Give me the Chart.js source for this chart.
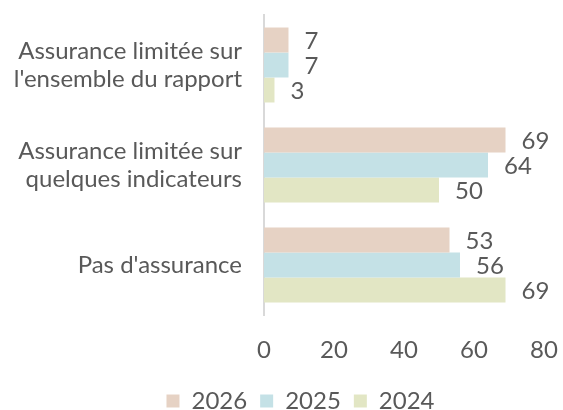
<!DOCTYPE html>
<html>
<head>
<meta charset="utf-8">
<script src="https://cdn.jsdelivr.net/npm/chart.js@4"></script>
<style>
  html, body { margin: 0; padding: 0; background: #fff; }
  #wrap { width: 563px; height: 410px; }
</style>
</head>
<body>
<div id="wrap"><canvas id="assuranceChart" width="563" height="410"></canvas></div>
<script>
// chart data
const categories = [
    ['Assurance limitée sur', "l'ensemble du rapport"],
    ['Assurance limitée sur', 'quelques indicateurs'],
    "Pas d'assurance"
];
const years = ['2026', '2025', '2024'];
const values2026 = [7, 69, 53];
const values2025 = [7, 64, 56];
const values2024 = [3, 50, 69];
const xTicks = [0, 20, 40, 60, 80];

const colors = ['#e6d2c4', '#c4e1e6', '#e2e6c4'];
const textColor = '#595959';

// draws the value just right of each bar end
const barValues = {
    id: 'barValues',
    afterDatasetsDraw(chart) {
        const ctx = chart.ctx;
        ctx.save();
        ctx.font = '24px Lato';
        ctx.fillStyle = textColor;
        ctx.textAlign = 'left';
        ctx.textBaseline = 'middle';
        chart.data.datasets.forEach((ds, i) => {
            chart.getDatasetMeta(i).data.forEach((bar, j) => {
                ctx.fillText(ds.data[j], bar.x + 16, bar.y + 1);
            });
        });
        ctx.restore();
    }
};

// legend is centred on the page; the reference has it a bit to the right
const legendNudge = {
    id: 'legendNudge',
    afterLayout(chart) {
        if (chart.legend) chart.legend.left += 38;
    }
};

const seriesValues = [values2026, values2025, values2024];

new Chart(document.getElementById('assuranceChart'), {
    type: 'bar',
    data: {
        labels: categories,
        datasets: years.map((y, i) => ({
            label: y,
            data: seriesValues[i],
            backgroundColor: colors[i],
            categoryPercentage: 0.75,
            barPercentage: 1
        }))
    },
    options: {
        indexAxis: 'y',
        responsive: false,
        animation: false,
        // negative bottom pushes the legend down to the canvas edge
        layout: { padding: { top: 15, right: 0, left: 0, bottom: -13 } },
        scales: {
            x: {
                min: 0,
                max: 80,
                afterBuildTicks: axis => { axis.ticks = xTicks.map(v => ({ value: v })); },
                afterFit: s => { s.height = 61; s.paddingRight = 19; },
                grid: { display: false },
                border: { display: false },
                ticks: { color: textColor, font: { family: 'Lato', size: 24 }, padding: 13 }
            },
            y: {
                afterFit: s => { s.width = 264; s.paddingTop = 0; s.paddingBottom = 0; },
                grid: { display: false },
                border: { display: true, color: '#d9d9d9', width: 2 },
                ticks: { color: textColor, font: { family: 'Lato', size: 24, lineHeight: 1.15 }, padding: 14 }
            }
        },
        plugins: {
            legend: {
                position: 'bottom',
                labels: {
                    color: textColor,
                    font: { family: 'Lato', size: 24 },
                    boxWidth: 13,
                    boxHeight: 13,
                    padding: 13
                }
            },
            tooltip: { enabled: false }
        }
    },
    plugins: [barValues, legendNudge]
});
</script>
</body>
</html>
